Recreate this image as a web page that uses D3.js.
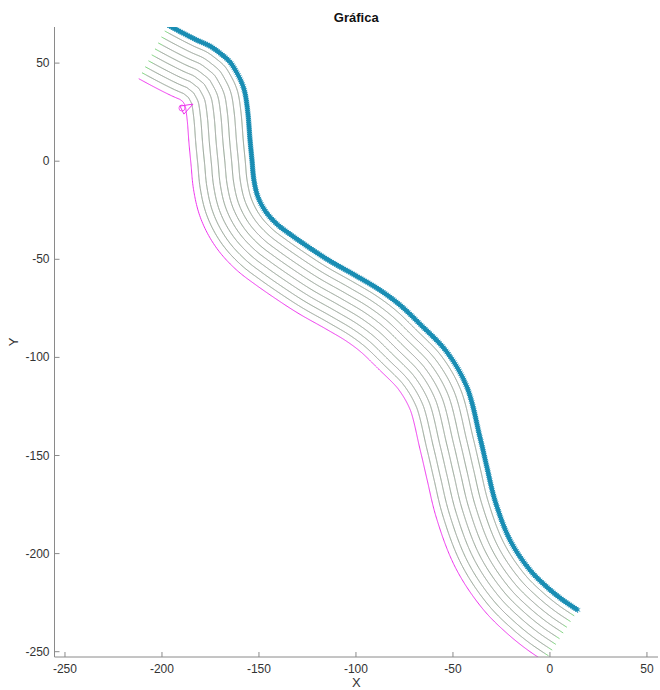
<!DOCTYPE html>
<html>
<head>
<meta charset="utf-8">
<script src="https://cdn.jsdelivr.net/npm/d3@7"></script>
<style>
  body { margin: 0; background: #fff; }
  text { font-family: "Liberation Sans", Arial, sans-serif; }
</style>
</head>
<body>
<div id="chart"></div>
<script>
// centre line (blue, star markers)
const centreX = [-196.9, -189.2, -182.0, -175.3, -170.1, -164.9, -161.3, -158.8, -157.2, -155.7,
  -154.6, -153.6, -152.6, -150.5, -146.4, -140.7, -134.0, -123.7, -113.4, -100.5, -87.6,
  -77.3, -67.0, -53.1, -42.8, -36.1, -32.5, -28.4, -20.6, -10.3, -1.5, 6.7, 14.4]
const centreY = [69.4, 65.3, 61.7, 58.7, 55.1, 50.5, 44.9, 39.8, 34.7, 24.5,
  10.8, 0.6, -9.6, -18.3, -25.9, -32.1, -37.2, -44.3, -50.9, -58.1, -65.7,
  -73.3, -83.0, -97.3, -115.1, -140.6, -155.9, -172.7, -193.1, -208.4, -217.1, -223.7, -228.8]

// lane lines, distance from the centre line (data units)
const laneOffsets = [3.5, 7, 10.5, 14, 17.5, 21, 24.5, 28]
const edgeOffset = 31.5

// small triangle + circle on the magenta edge
const loopX = [-190.7, -184.0, -188.7, -190.7]
const loopY = [28.1, 29.1, 24.0, 28.1]
const startX = -189.7
const startY = 27.1

const xTicks = [-250, -200, -150, -100, -50, 0, 50]
const yTicks = [-250, -200, -150, -100, -50, 0, 50]

const width = 660
const height = 690

const x = d3.scaleLinear().domain([-255.4, 55.7]).range([54.5, 658])
const y = d3.scaleLinear().domain([-252.7, 68.4]).range([657, 27])

const svg = d3.select("#chart")
  .append("svg")
  .attr("width", width)
  .attr("height", height)

svg.append("clipPath").attr("id", "plot")
  .append("rect")
  .attr("x", x.range()[0]).attr("y", y.range()[1])
  .attr("width", x.range()[1] - x.range()[0])
  .attr("height", y.range()[0] - y.range()[1])

const plot = svg.append("g").attr("clip-path", "url(#plot)")

const centre = centreX.map((d, i) => [x(d), y(centreY[i])])
const smooth = d3.line().curve(d3.curveCatmullRom.alpha(0.5))

// sample the centre line so the lanes can follow it
const probe = svg.append("path").attr("d", smooth(centre)).attr("fill", "none")
const node = probe.node()
const total = node.getTotalLength()
const samples = d3.range(0, total, 1).map(l => node.getPointAtLength(l))
samples.push(node.getPointAtLength(total))
probe.remove()

const n = samples.length
const pxPerUnit = x(1) - x(0)

function intersect(p1, p2, p3, p4) {
  const d = (p2[0] - p1[0]) * (p4[1] - p3[1]) - (p2[1] - p1[1]) * (p4[0] - p3[0])
  if (Math.abs(d) < 1e-9) return null
  const t = ((p3[0] - p1[0]) * (p4[1] - p3[1]) - (p3[1] - p1[1]) * (p4[0] - p3[0])) / d
  const u = ((p3[0] - p1[0]) * (p2[1] - p1[1]) - (p3[1] - p1[1]) * (p2[0] - p1[0])) / d
  if (t < 0 || t > 1 || u < 0 || u > 1) return null
  return [p1[0] + t * (p2[0] - p1[0]), p1[1] + t * (p2[1] - p1[1])]
}

function offsetLine(off) {
  const dist = off * pxPerUnit
  let pts = samples.map((p, i) => {
    const a = samples[Math.max(0, i - 4)]
    const b = samples[Math.min(n - 1, i + 4)]
    const dx = b.x - a.x, dy = b.y - a.y
    const len = Math.hypot(dx, dy) || 1
    return [p.x - dy / len * dist, p.y + dx / len * dist]
  })
  // cut the small loops on the inside of the bends
  const out = []
  let i = 0
  while (i < pts.length - 1) {
    out.push(pts[i])
    let jump = null
    for (let j = Math.min(pts.length - 2, i + 250); j > i + 1; j--) {
      const hit = intersect(pts[i], pts[i + 1], pts[j], pts[j + 1])
      if (hit) { jump = [j, hit]; break }
    }
    if (jump) { out.push(jump[1]); i = jump[0] + 1 } else i++
  }
  out.push(pts[pts.length - 1])
  return out
}

const straight = d3.line()

// each lane line is a green and a magenta plot on top of each other
laneOffsets.forEach(off => {
  const pts = offsetLine(off)
  plot.append("path")
    .attr("d", straight(pts))
    .attr("fill", "none")
    .attr("stroke", "#61c861")
    .attr("stroke-width", 0.85)
  plot.append("path")
    .attr("d", straight(pts.slice(5, pts.length - 5)))
    .attr("fill", "none")
    .attr("stroke", "#ff64ff")
    .attr("stroke-opacity", 0.4)
    .attr("stroke-width", 0.85)
})

plot.append("path")
  .attr("d", straight(offsetLine(edgeOffset)))
  .attr("fill", "none")
  .attr("stroke", "#ee33ee")
  .attr("stroke-width", 1)

plot.append("path")
  .attr("d", straight(loopX.map((d, i) => [x(d), y(loopY[i])])))
  .attr("fill", "none")
  .attr("stroke", "#ee33ee")
  .attr("stroke-width", 1)

plot.append("circle")
  .attr("cx", x(startX)).attr("cy", y(startY)).attr("r", 3)
  .attr("fill", "none")
  .attr("stroke", "#ee33ee")
  .attr("stroke-width", 0.8)

// blue centre line with star markers
const blue = "#1a8db3"
plot.append("path")
  .attr("d", smooth(centre))
  .attr("fill", "none")
  .attr("stroke", blue)
  .attr("stroke-width", 4)

const star = d3.symbol().type(d3.symbolAsterisk || d3.symbolCross).size(24)
plot.append("g")
  .selectAll("path")
  .data(samples.filter((d, i) => i % 2 === 0))
  .join("path")
  .attr("transform", d => `translate(${d.x},${d.y})`)
  .attr("d", star)
  .attr("fill", "none")
  .attr("stroke", blue)
  .attr("stroke-width", 0.9)

// axes, MATLAB style: ticks pointing in, box off
const axisColor = "#8a8a8a"
const textColor = "#333"

svg.append("line")
  .attr("x1", x.range()[0]).attr("x2", x.range()[1])
  .attr("y1", y.range()[0]).attr("y2", y.range()[0])
  .attr("stroke", axisColor)
svg.append("line")
  .attr("x1", x.range()[0]).attr("x2", x.range()[0])
  .attr("y1", y.range()[0]).attr("y2", y.range()[1])
  .attr("stroke", axisColor)

svg.append("g")
  .selectAll("line")
  .data(xTicks)
  .join("line")
  .attr("x1", d => x(d)).attr("x2", d => x(d))
  .attr("y1", y.range()[0]).attr("y2", y.range()[0] - 5)
  .attr("stroke", axisColor)

svg.append("g")
  .selectAll("text")
  .data(xTicks)
  .join("text")
  .attr("x", d => x(d))
  .attr("y", y.range()[0] + 16)
  .attr("text-anchor", "middle")
  .attr("font-size", 12)
  .attr("fill", textColor)
  .text(d => d)

svg.append("g")
  .selectAll("line")
  .data(yTicks)
  .join("line")
  .attr("x1", x.range()[0]).attr("x2", x.range()[0] + 5)
  .attr("y1", d => y(d)).attr("y2", d => y(d))
  .attr("stroke", axisColor)

svg.append("g")
  .selectAll("text")
  .data(yTicks)
  .join("text")
  .attr("x", x.range()[0] - 5)
  .attr("y", d => y(d) + 4)
  .attr("text-anchor", "end")
  .attr("font-size", 12)
  .attr("fill", textColor)
  .text(d => d)

svg.append("text")
  .attr("x", (x.range()[0] + x.range()[1]) / 2)
  .attr("y", 22)
  .attr("text-anchor", "middle")
  .attr("font-size", 13)
  .attr("font-weight", "bold")
  .attr("fill", "#111")
  .text("Gráfica")

svg.append("text")
  .attr("x", (x.range()[0] + x.range()[1]) / 2)
  .attr("y", 687)
  .attr("text-anchor", "middle")
  .attr("font-size", 13)
  .attr("fill", textColor)
  .text("X")

svg.append("text")
  .attr("transform", `translate(18,${(y.range()[0] + y.range()[1]) / 2}) rotate(-90)`)
  .attr("text-anchor", "middle")
  .attr("font-size", 13)
  .attr("fill", textColor)
  .text("Y")
</script>
</body>
</html>
